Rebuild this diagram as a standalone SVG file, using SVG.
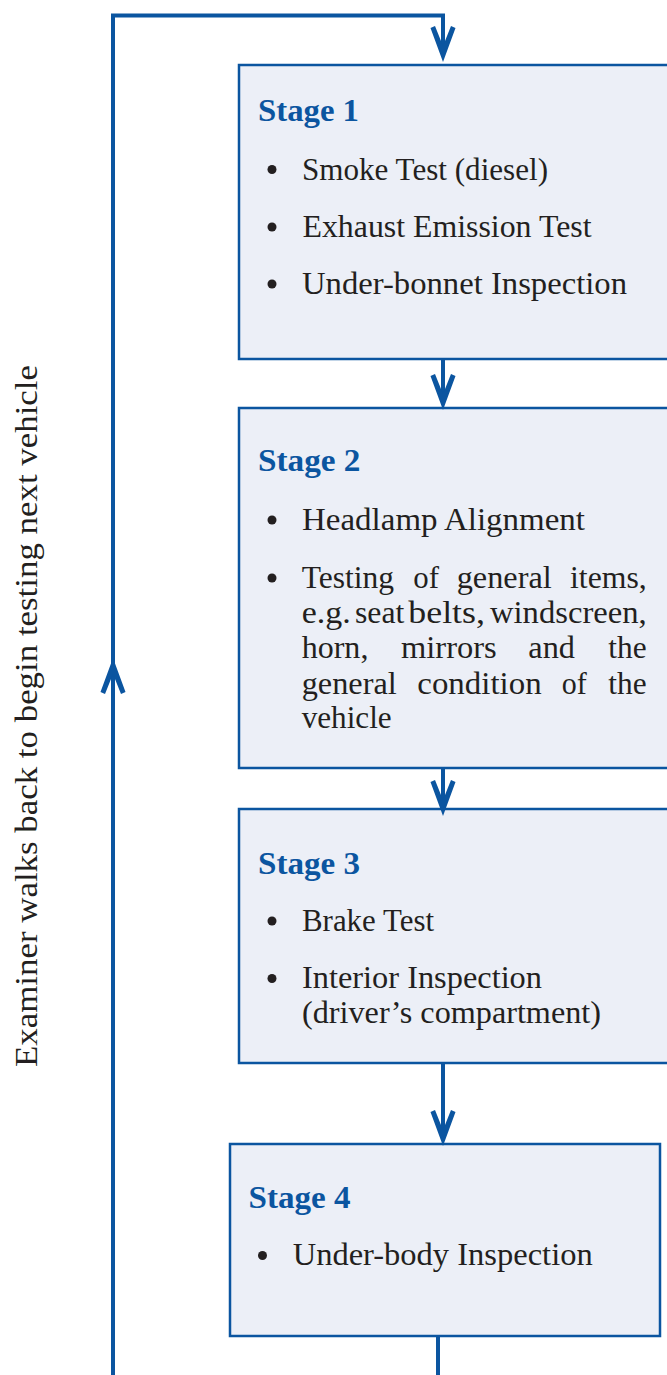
<svg xmlns="http://www.w3.org/2000/svg" width="667" height="1375" viewBox="0 0 667 1375">
<style>
.box{fill:#eceff7;stroke:#0b55a0;stroke-width:2.5}
.t{font-family:"Liberation Serif",serif;font-size:31px;fill:#231f20}
.h{font-family:"Liberation Serif",serif;font-size:31px;font-weight:bold;fill:#0b55a0}
.b{fill:#231f20}
.ln{fill:none;stroke:#0b55a0;stroke-width:4}
</style>
<defs>
<marker id="ah" viewBox="-38 -14 40 28" refX="-16" refY="0" markerWidth="40" markerHeight="28" markerUnits="userSpaceOnUse" orient="auto">
<path d="M0,0 L-34,-12.5 L-36,-8 L-16,0 L-36,8 L-34,12.5 Z" fill="#0b55a0"/>
</marker>
</defs>
<rect width="667" height="1375" fill="#ffffff"/>
<text class="t" transform="translate(37,1067) rotate(-90)" textLength="702" lengthAdjust="spacingAndGlyphs">Examiner walks back to begin testing next vehicle</text>
<g id="stage1">
<rect class="box" x="239" y="65" width="460" height="294"/>
<text class="h" x="258" y="121" textLength="101" lengthAdjust="spacingAndGlyphs">Stage 1</text>
<circle class="b" cx="272" cy="169.5" r="4.5"/>
<text class="t" x="302" y="180" textLength="246" lengthAdjust="spacingAndGlyphs">Smoke Test (diesel)</text>
<circle class="b" cx="272" cy="227" r="4.5"/>
<text class="t" x="302.5" y="237" textLength="289" lengthAdjust="spacingAndGlyphs">Exhaust Emission Test</text>
<circle class="b" cx="272" cy="284" r="4.5"/>
<text class="t" x="302" y="294" textLength="325" lengthAdjust="spacingAndGlyphs">Under-bonnet Inspection</text>
</g>
<g id="stage2">
<rect class="box" x="239" y="408" width="460" height="360"/>
<text class="h" x="258" y="471" textLength="102.5" lengthAdjust="spacingAndGlyphs">Stage 2</text>
<circle class="b" cx="272" cy="520" r="4.5"/>
<text class="t" x="302" y="530" textLength="283" lengthAdjust="spacingAndGlyphs">Headlamp Alignment</text>
<circle class="b" cx="272" cy="578" r="4.5"/>
<text class="t" x="301.7" y="588" textLength="92.3" lengthAdjust="spacingAndGlyphs">Testing</text>
<text class="t" x="413.3" y="588" textLength="25.7" lengthAdjust="spacingAndGlyphs">of</text>
<text class="t" x="456.7" y="588" textLength="95" lengthAdjust="spacingAndGlyphs">general</text>
<text class="t" x="570" y="588" textLength="76.7" lengthAdjust="spacingAndGlyphs">items,</text>
<text class="t" x="301.7" y="623" textLength="49" lengthAdjust="spacingAndGlyphs">e.g.</text>
<text class="t" x="355" y="623" textLength="49.3" lengthAdjust="spacingAndGlyphs">seat</text>
<text class="t" x="408.3" y="623" textLength="76.7" lengthAdjust="spacingAndGlyphs">belts,</text>
<text class="t" x="490" y="623" textLength="156.7" lengthAdjust="spacingAndGlyphs">windscreen,</text>
<text class="t" x="301.7" y="658" textLength="66.7" lengthAdjust="spacingAndGlyphs">horn,</text>
<text class="t" x="401" y="658" textLength="95.7" lengthAdjust="spacingAndGlyphs">mirrors</text>
<text class="t" x="528.3" y="658" textLength="46.7" lengthAdjust="spacingAndGlyphs">and</text>
<text class="t" x="608.3" y="658" textLength="38.3" lengthAdjust="spacingAndGlyphs">the</text>
<text class="t" x="301.7" y="694" textLength="95" lengthAdjust="spacingAndGlyphs">general</text>
<text class="t" x="417.3" y="694" textLength="124.3" lengthAdjust="spacingAndGlyphs">condition</text>
<text class="t" x="561.7" y="694" textLength="25" lengthAdjust="spacingAndGlyphs">of</text>
<text class="t" x="608.3" y="694" textLength="38.3" lengthAdjust="spacingAndGlyphs">the</text>
<text class="t" x="301.7" y="728" textLength="90" lengthAdjust="spacingAndGlyphs">vehicle</text>
</g>
<g id="stage3">
<rect class="box" x="239" y="809" width="460" height="254"/>
<text class="h" x="258" y="874" textLength="102" lengthAdjust="spacingAndGlyphs">Stage 3</text>
<circle class="b" cx="272" cy="921" r="4.5"/>
<text class="t" x="302" y="931" textLength="132" lengthAdjust="spacingAndGlyphs">Brake Test</text>
<circle class="b" cx="272" cy="978.5" r="4.5"/>
<text class="t" x="302" y="988" textLength="240" lengthAdjust="spacingAndGlyphs">Interior Inspection</text>
<text class="t" x="302" y="1023" textLength="299" lengthAdjust="spacingAndGlyphs">(driver’s compartment)</text>
</g>
<g id="stage4">
<rect class="box" x="230" y="1144" width="430" height="192"/>
<text class="h" x="248.5" y="1208" textLength="102" lengthAdjust="spacingAndGlyphs">Stage 4</text>
<circle class="b" cx="262.5" cy="1255.5" r="4.5"/>
<text class="t" x="292.7" y="1265" textLength="300" lengthAdjust="spacingAndGlyphs">Under-body Inspection</text>
</g>
<g id="connectors">
<path class="ln" d="M113,1375 V15.5 H443 V46" marker-end="url(#ah)"/>
<path class="ln" d="M113,1375 V674" marker-end="url(#ah)"/>
<path class="ln" d="M443,359 V394" marker-end="url(#ah)"/>
<path class="ln" d="M443,768 V800" marker-end="url(#ah)"/>
<path class="ln" d="M443,1064 V1130" marker-end="url(#ah)"/>
<path class="ln" d="M438,1337 V1375"/>
</g>
</svg>
